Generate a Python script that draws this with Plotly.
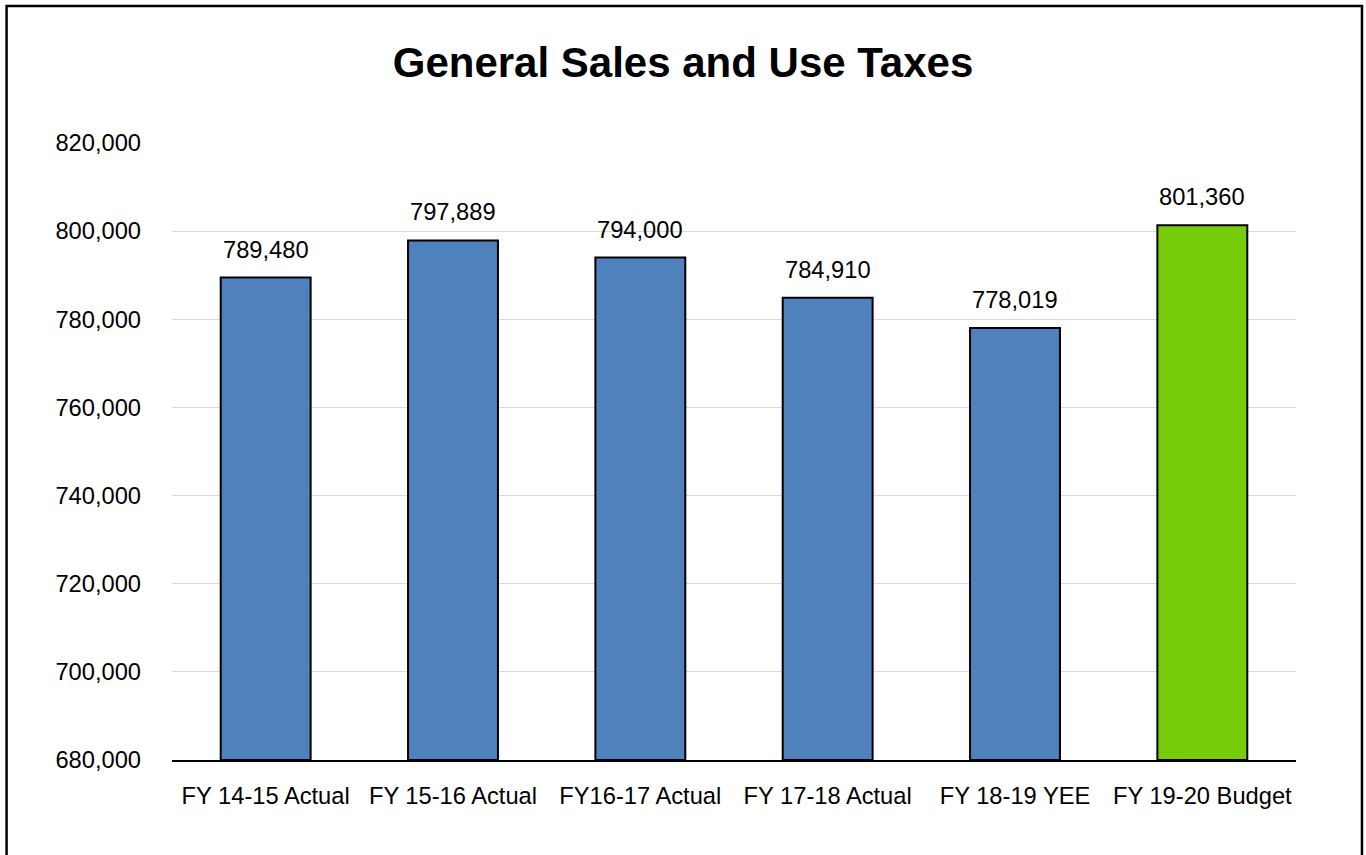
import plotly.graph_objects as go

# Fiscal-year categories and General Sales and Use Tax amounts
categories = ["FY 14-15 Actual", "FY 15-16 Actual", "FY16-17 Actual",
              "FY 17-18 Actual", "FY 18-19 YEE", "FY 19-20 Budget"]
values = [789480, 797889, 794000, 784910, 778019, 801360]
bar_colors = ["#4F81BD", "#4F81BD", "#4F81BD", "#4F81BD", "#4F81BD", "#77CC0A"]

y_min, y_max, y_step = 680000, 820000, 20000

W, H = 1366, 855
ML, MR, MT, MB = 171.5, 70, 143, 95
plot_w = W - ML - MR
plot_h = H - MT - MB

FONT = "Liberation Sans, Arial, sans-serif"
TXT = 23.7

fig = go.Figure()
# bars rise from the axis minimum up to each value
fig.add_trace(go.Bar(
    x=categories,
    y=[v - y_min for v in values],
    base=y_min,
    marker=dict(color=bar_colors, line=dict(color="#000000", width=2)),
    customdata=values,
    hovertemplate="%{x}: %{customdata:,}<extra></extra>",
))

# value labels above each bar
for c, v in zip(categories, values):
    fig.add_annotation(
        x=c, y=v, xref="x", yref="y",
        text=f"{v:,}", showarrow=False,
        yanchor="bottom", yshift=13,
        font=dict(family=FONT, size=TXT, color="#000000"),
    )

# outer frame around the chart
def px_x(p):
    return (p - ML) / plot_w

def px_y(p):
    return (H - MB - p) / plot_h

fig.add_shape(
    type="rect", xref="paper", yref="paper",
    x0=px_x(6), x1=px_x(1362), y0=px_y(870), y1=px_y(6),
    line=dict(color="#000000", width=2.5), fillcolor="rgba(0,0,0,0)",
    layer="above",
)

fig.update_layout(
    width=W, height=H,
    margin=dict(l=ML, r=MR, t=MT, b=MB, pad=0),
    paper_bgcolor="#FFFFFF",
    plot_bgcolor="#FFFFFF",
    bargap=0.52,
    showlegend=False,
    title=dict(
        text="<b>General Sales and Use Taxes</b>",
        x=0.5, xanchor="center",
        y=1 - 62 / H, yanchor="middle",
        font=dict(family=FONT, size=42, color="#000000"),
    ),
    font=dict(family=FONT, size=TXT, color="#000000"),
)

fig.update_xaxes(
    showgrid=False,
    showline=True, linecolor="#000000", linewidth=2,
    ticks="", ticklabelstandoff=14,
    tickfont=dict(family=FONT, size=TXT, color="#000000"),
)
fig.update_yaxes(
    range=[y_min, y_max],
    tick0=y_min, dtick=y_step,
    tickformat=",",
    showgrid=True, gridcolor="#D9D9D9", gridwidth=1,
    showline=False, zeroline=False,
    ticks="", ticklabelstandoff=30,
    tickfont=dict(family=FONT, size=TXT, color="#000000"),
)

fig.write_html("out.html")
